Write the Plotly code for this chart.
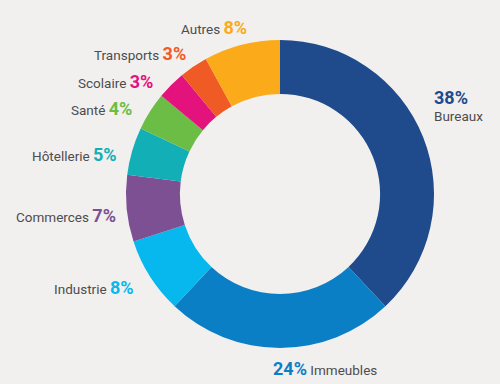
import plotly.graph_objects as go

labels = ["Bureaux", "Immeubles", "Industrie", "Commerces", "Hôtellerie", "Santé", "Scolaire", "Transports", "Autres"]
values = [38, 24, 8, 7, 5, 4, 3, 3, 8]
colors = ["#1f4a8c", "#0b7fc5", "#06b8ee", "#7d5094", "#13afb7", "#6bbd45", "#e3127d", "#f05a24", "#fbaa1a"]

# label placement (paper pixels from top-left)
label_x = [432, 271, 136, 118, 119, 134, 155, 188, 249]
label_y = [98, 368, 287, 215, 155, 108, 81, 53, 28]

W, H = 500, 384
BG = "#f2f0ee"
NAME_COLOR = "#4d4d4f"
FONT = "Roboto, Arial, sans-serif"

cx, cy, R = 280, 194, 154

fig = go.Figure(go.Pie(
    labels=labels, values=values, sort=False, direction="clockwise", rotation=0,
    hole=0.65, marker=dict(colors=colors, line=dict(width=0)),
    textinfo="none", hoverinfo="label+percent", showlegend=False,
    domain=dict(x=[(cx - R) / W, (cx + R) / W], y=[(H - cy - R) / H, (H - cy + R) / H]),
))

def pct(i):
    return f"<b><span style='color:{colors[i]};font-size:18px'>{values[i]}%</span></b>"

annotations = []
for i, name in enumerate(labels):
    x = label_x[i] / W
    y = 1 - label_y[i] / H
    if name == "Bureaux":
        annotations.append(dict(x=x, y=y, xanchor="left", yanchor="middle", text=pct(i)))
        annotations.append(dict(x=x, y=1 - 116 / H, xanchor="left", yanchor="middle",
                                text=f"<span style='color:{NAME_COLOR}'>{name}</span>"))
    elif name == "Immeubles":
        annotations.append(dict(x=x, y=y, xanchor="left", yanchor="middle",
                                text=pct(i) + f" <span style='color:{NAME_COLOR}'>{name}</span>"))
    else:
        annotations.append(dict(x=x, y=y, xanchor="right", yanchor="middle",
                                text=f"<span style='color:{NAME_COLOR}'>{name}</span> " + pct(i)))

for a in annotations:
    a.update(xref="paper", yref="paper", showarrow=False, font=dict(family=FONT, size=13.5, color=NAME_COLOR))

fig.update_layout(
    width=W, height=H, margin=dict(l=0, r=0, t=0, b=0),
    paper_bgcolor=BG, plot_bgcolor=BG, annotations=annotations,
    font=dict(family=FONT),
)

fig.write_html(
    "out.html",
    config={"displayModeBar": False},
    post_script="document.body.style.margin='0';document.body.style.background='" + BG + "';",
)
